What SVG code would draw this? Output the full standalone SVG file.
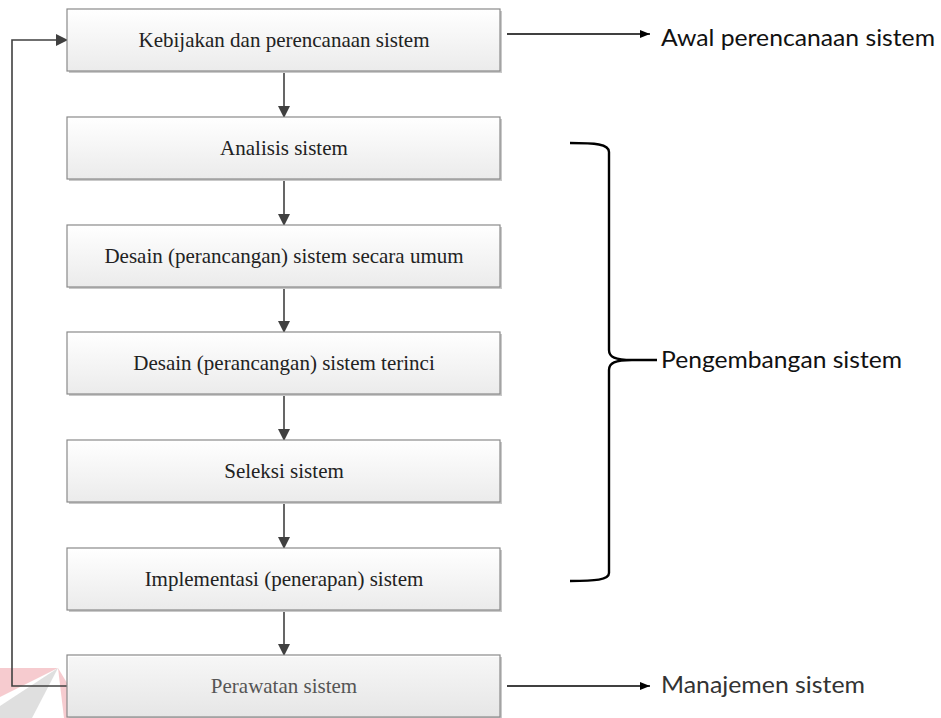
<svg xmlns="http://www.w3.org/2000/svg" width="941" height="718" viewBox="0 0 941 718">
<style>
.box{fill:url(#g);stroke:#8a8a8a;stroke-width:1.2}
.shadow{fill:#c9c9c9}
.bt{font-family:"Liberation Serif","Times New Roman",serif;font-size:21px;fill:#222;text-anchor:middle}
.st{font-family:Lato,"Open Sans",sans-serif;font-size:24px;fill:#111}
.conn{stroke:#404040;stroke-width:1.6;fill:none}
.blk{stroke:#000;stroke-width:1.6;fill:none}
</style>
<defs>
<linearGradient id="g" x1="0" y1="0" x2="0" y2="1">
<stop offset="0" stop-color="#ffffff"/>
<stop offset="1" stop-color="#ebebeb"/>
</linearGradient>
<marker id="ah" markerWidth="12" markerHeight="12" refX="11" refY="6" orient="auto" markerUnits="userSpaceOnUse">
<path d="M0,0 L12,6 L0,12 Z" fill="#404040"/>
</marker>
<marker id="ahb" markerWidth="10" markerHeight="8" refX="10" refY="4" orient="auto" markerUnits="userSpaceOnUse">
<path d="M0,0 L10,4 L0,8 Z" fill="#000"/>
</marker>
</defs>
<rect width="941" height="718" fill="#fff"/>
<g id="watermark" opacity="0.9">
<polygon points="0,668 58,668 0,697" fill="#f6c6ca"/>
<polygon points="58,668 0,706 0,718 32,718" fill="#dcdcdc"/>
<polygon points="58,668 88,718 64,718" fill="#f6c6ca"/>
</g>
<g id="connectors">
<line class="conn" x1="284" y1="71" x2="284" y2="117" marker-end="url(#ah)"/>
<line class="conn" x1="284" y1="179" x2="284" y2="225" marker-end="url(#ah)"/>
<line class="conn" x1="284" y1="287" x2="284" y2="332" marker-end="url(#ah)"/>
<line class="conn" x1="284" y1="394" x2="284" y2="440" marker-end="url(#ah)"/>
<line class="conn" x1="284" y1="502" x2="284" y2="548" marker-end="url(#ah)"/>
<line class="conn" x1="284" y1="610" x2="284" y2="655" marker-end="url(#ah)"/>
<polyline class="conn" points="67,686 12,686 12,40 67,40" marker-end="url(#ah)"/>
<line class="blk" x1="507" y1="34" x2="650" y2="34" marker-end="url(#ahb)"/>
<line class="blk" x1="507" y1="686" x2="650" y2="686" marker-end="url(#ahb)"/>
<path d="M570 143 C595 143 609 144 609 152 L609 350 C609 357 615 360 632 360 L657 360 M632 360 C615 360 609 363 609 370 L609 573 C609 580 595 581 570 581" stroke="#000" stroke-width="2.4" fill="none"/>
</g>
<g id="n1"><rect class="shadow" x="69" y="11" width="433" height="62"/><rect class="box" x="67" y="9" width="433" height="62"/><text class="bt" x="284" y="47">Kebijakan dan perencanaan sistem</text></g>
<g id="n2"><rect class="shadow" x="69" y="119" width="433" height="62"/><rect class="box" x="67" y="117" width="433" height="62"/><text class="bt" x="284" y="155">Analisis sistem</text></g>
<g id="n3"><rect class="shadow" x="69" y="227" width="433" height="62"/><rect class="box" x="67" y="225" width="433" height="62"/><text class="bt" x="284" y="263">Desain (perancangan) sistem secara umum</text></g>
<g id="n4"><rect class="shadow" x="69" y="334" width="433" height="62"/><rect class="box" x="67" y="332" width="433" height="62"/><text class="bt" x="284" y="370">Desain (perancangan) sistem terinci</text></g>
<g id="n5"><rect class="shadow" x="69" y="442" width="433" height="62"/><rect class="box" x="67" y="440" width="433" height="62"/><text class="bt" x="284" y="478">Seleksi sistem</text></g>
<g id="n6"><rect class="shadow" x="69" y="550" width="433" height="62"/><rect class="box" x="67" y="548" width="433" height="62"/><text class="bt" x="284" y="586">Implementasi (penerapan) sistem</text></g>
<g id="n7"><rect class="shadow" x="69" y="657" width="433" height="61"/><rect class="box" x="67" y="655" width="433" height="62" fill-opacity="0.85"/><text class="bt" x="284" y="693" style="fill:#555">Perawatan sistem</text></g>
<g id="labels">
<text class="st" x="661" y="46" textLength="274" lengthAdjust="spacingAndGlyphs">Awal perencanaan sistem</text>
<text class="st" x="661" y="368" textLength="241" lengthAdjust="spacingAndGlyphs">Pengembangan sistem</text>
<text class="st" x="661" y="693" textLength="204" lengthAdjust="spacingAndGlyphs" style="fill:#333">Manajemen sistem</text>
</g>
</svg>
